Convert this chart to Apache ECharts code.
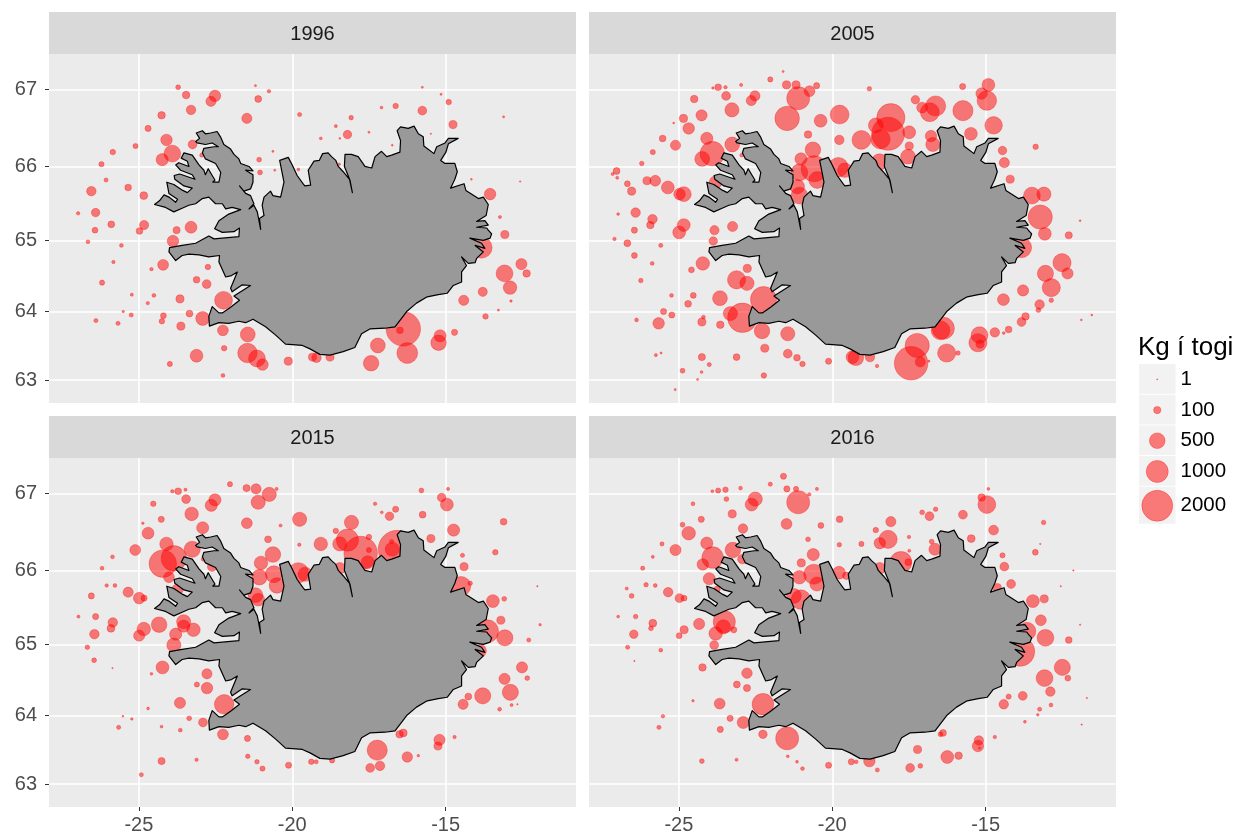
<!DOCTYPE html>
<html>
<head>
<meta charset="utf-8">
<title>Kg í togi</title>
<script src="https://cdn.jsdelivr.net/npm/echarts@6/dist/echarts.min.js"></script>
<style>
  html, body { margin: 0; background: #fff; }
  #chart { width: 1239px; height: 839px; }
</style>
</head>
<body>
<div id="chart"></div>
<script>
const years = ['1996', '2005', '2015', '2016'];
const xTicks = [-25, -20, -15];
const yTicks = [63, 64, 65, 66, 67];
const legendKg = [1, 100, 500, 1000, 2000];

// coastline, lon / lat
const coast = [
  [-24.49,65.49],[-24.33,65.54],[-24.18,65.62],[-24.02,65.59],[-23.80,65.52],[-23.74,65.56],[-24.02,65.64],[-24.09,65.79],[-23.86,65.76],[-23.57,65.68],
  [-23.42,65.65],[-23.26,65.71],[-23.53,65.74],[-23.83,65.83],[-23.85,65.88],[-23.67,65.90],[-23.17,65.83],[-23.26,65.89],[-23.64,65.95],[-23.80,66.02],
  [-23.70,66.05],[-23.37,66.00],[-23.42,66.07],[-23.62,66.11],[-23.53,66.18],[-23.26,66.15],[-23.04,66.02],[-22.88,65.95],[-22.83,65.89],[-22.74,65.97],
  [-22.61,65.88],[-22.52,65.82],[-22.59,65.79],[-22.39,65.79],[-22.33,65.92],[-22.50,66.04],[-22.83,66.10],[-22.93,66.18],[-22.88,66.24],[-22.55,66.26],
  [-22.41,66.26],[-22.61,66.31],[-22.83,66.29],[-23.10,66.31],[-23.15,66.33],[-23.02,66.37],[-23.13,66.44],[-22.93,66.47],[-22.83,66.43],[-22.66,66.44],
  [-22.45,66.46],[-22.34,66.39],[-22.23,66.29],[-22.01,66.23],[-21.90,66.16],[-21.74,66.10],[-21.68,66.04],[-21.41,66.00],[-21.28,65.94],[-21.52,65.95],
  [-21.28,65.89],[-21.28,65.79],[-21.36,65.70],[-21.58,65.67],[-21.72,65.74],[-21.52,65.64],[-21.36,65.61],[-21.25,65.50],[-21.41,65.43],[-21.25,65.48],
  [-21.14,65.39],[-21.03,65.15],[-21.07,65.30],[-20.92,65.34],[-20.98,65.48],[-20.92,65.59],[-20.71,65.67],[-20.63,65.61],[-20.38,65.59],[-20.27,65.79],
  [-20.41,66.08],[-20.13,66.12],[-20.00,66.02],[-19.84,65.88],[-19.65,65.77],[-19.59,65.74],[-19.40,65.75],[-19.48,65.95],[-19.29,66.07],[-19.12,66.08],
  [-19.01,66.17],[-18.83,66.18],[-18.72,66.13],[-18.58,66.08],[-18.50,66.00],[-18.34,65.93],[-18.12,65.82],[-18.04,65.65],[-18.14,65.84],[-18.30,66.00],
  [-18.28,66.16],[-18.07,66.16],[-17.85,66.13],[-17.63,66.00],[-17.41,65.98],[-17.30,66.13],[-17.09,66.20],[-16.92,66.13],[-16.76,66.15],[-16.49,66.19],
  [-16.47,66.34],[-16.58,66.47],[-16.47,66.52],[-16.22,66.50],[-16.03,66.53],[-15.89,66.43],[-15.73,66.39],[-15.71,66.27],[-15.38,66.17],[-15.29,66.26],
  [-15.02,66.31],[-14.91,66.37],[-14.59,66.37],[-14.91,66.30],[-14.99,66.19],[-15.16,66.08],[-15.02,66.04],[-14.70,66.04],[-14.62,65.93],[-14.70,65.83],
  [-14.84,65.71],[-14.40,65.77],[-14.34,65.68],[-13.93,65.57],[-13.77,65.59],[-13.61,65.49],[-13.68,65.34],[-13.99,65.26],[-13.72,65.27],[-13.61,65.21],
  [-13.99,65.18],[-13.66,65.17],[-13.61,65.14],[-13.50,65.09],[-13.55,65.03],[-13.77,65.00],[-14.21,65.03],[-13.83,64.96],[-13.72,64.89],[-14.04,64.93],
  [-13.77,64.84],[-13.99,64.75],[-14.04,64.69],[-14.26,64.68],[-14.48,64.77],[-14.32,64.65],[-14.48,64.56],[-14.48,64.42],[-14.75,64.37],[-14.95,64.26],
  [-15.24,64.24],[-15.60,64.21],[-15.95,64.12],[-16.27,64.00],[-16.65,63.78],[-16.98,63.76],[-17.47,63.75],[-17.74,63.68],[-17.96,63.48],[-18.34,63.42],
  [-18.77,63.37],[-19.10,63.38],[-19.42,63.46],[-19.67,63.51],[-20.22,63.53],[-20.54,63.66],[-20.87,63.78],[-21.28,63.89],[-21.52,63.84],[-21.74,63.86],
  [-22.07,63.83],[-22.39,63.84],[-22.70,63.79],[-22.72,63.93],[-22.61,64.07],[-22.39,63.98],[-22.28,63.98],[-22.01,64.06],[-21.72,64.16],[-21.90,64.22],
  [-21.36,64.37],[-21.63,64.38],[-21.96,64.28],[-22.01,64.33],[-21.79,64.56],[-21.98,64.51],[-22.17,64.49],[-22.39,64.70],[-22.37,64.79],[-22.72,64.77],
  [-23.04,64.80],[-23.37,64.81],[-23.59,64.79],[-23.80,64.72],[-24.02,64.84],[-24.00,64.90],[-23.59,64.93],[-23.15,64.96],[-22.72,65.06],[-22.55,65.02],
  [-21.74,65.05],[-21.72,65.17],[-21.90,65.12],[-22.28,65.11],[-22.53,65.16],[-22.39,65.27],[-22.07,65.36],[-21.68,65.42],[-21.96,65.45],[-22.17,65.43],
  [-22.28,65.50],[-22.50,65.50],[-22.72,65.59],[-22.93,65.57],[-23.15,65.50],[-23.37,65.48],[-23.59,65.44],[-23.86,65.39],[-24.13,65.45]
];

// tows: lon, lat, kg
const tows1996 = [
  [-23.72,67.03,41],[-23.46,66.93,106],[-22.52,66.92,262],[-22.65,66.85,202],[-23.30,66.74,175],[-24.26,66.67,106],[-21.20,67.05,6],[-20.76,66.98,19],[-21.11,66.88,87],[-21.48,66.63,202],
  [-19.76,66.68,29],[-24.70,66.50,69],[-24.10,66.35,262],[-23.25,66.29,150],[-25.11,66.27,47],[-25.85,66.19,54],[-23.91,66.17,577],[-24.24,66.09,294],[-26.22,66.03,47],[-22.95,66.15,29],
  [-20.63,66.20,6],[-21.08,66.09,41],[-21.05,65.92,41],[-20.57,65.95,6],[-19.80,65.96,12],[-26.07,65.82,29],[-26.55,65.67,175],[-25.35,65.72,78],[-24.84,65.61,116],[-26.98,65.37,19],
  [-26.41,65.38,138],[-25.90,65.22,87],[-24.83,65.21,163],[-24.98,65.13,78],[-26.43,65.14,62],[-23.30,65.18,278],[-23.77,65.14,96],[-23.89,64.99,262],[-26.66,64.98,24],[-25.57,64.93,24],
  [-25.83,64.70,19],[-24.21,64.66,231],[-24.59,64.60,19],[-22.75,64.63,54],[-26.20,64.41,47],[-23.12,64.45,78],[-22.79,64.39,150],[-25.23,64.24,15],[-24.51,64.23,24],[-23.66,64.18,127],
  [-22.24,64.16,650],[-24.71,64.12,19],[-25.51,64.00,9],[-25.25,63.95,29],[-24.20,63.94,62],[-26.40,63.87,29],[-25.68,63.83,29],[-24.25,63.86,54],[-23.35,63.97,87],[-22.92,63.90,385],
  [-23.63,63.79,127],[-22.26,63.73,231],[-21.45,63.67,444],[-22.22,63.47,54],[-23.12,63.36,329],[-23.99,63.24,47],[-21.46,63.40,781],[-21.15,63.32,577],[-20.97,63.23,262],[-20.13,63.28,127],
  [-22.26,63.07,24],[-15.76,67.03,6],[-15.15,66.94,6],[-14.90,66.84,54],[-17.09,66.77,12],[-16.63,66.79,54],[-15.76,66.73,150],[-18.08,66.64,35],[-18.58,66.53,15],[-13.11,66.65,6],
  [-14.76,66.55,127],[-17.50,66.45,6],[-18.20,66.42,138],[-19.07,66.37,12],[-18.45,66.37,4],[-15.48,66.43,2],[-16.74,66.28,4],[-18.47,66.03,9],[-14.16,65.83,4],[-12.57,65.80,2],
  [-13.55,65.63,262],[-13.23,65.32,15],[-13.07,65.08,127],[-13.83,64.90,924],[-12.53,64.67,246],[-12.36,64.54,106],[-13.08,64.54,577],[-12.90,64.34,366],[-13.79,64.28,163],[-14.41,64.16,202],
  [-12.87,64.15,9],[-13.28,64.02,6],[-13.70,63.93,54],[-14.71,63.70,69],[-16.49,63.73,87],[-16.38,63.75,2500],[-15.18,63.65,294],[-15.23,63.55,487],[-17.21,63.51,444],[-16.25,63.40,894],
  [-17.43,63.25,487],[-18.77,63.34,127],[-19.21,63.33,175],[-19.34,63.34,127]
];

const tows2005 = [
  [-21.60,67.23,6],[-22.02,67.13,47],[-21.49,67.06,127],[-21.18,67.06,127],[-20.51,67.05,69],[-20.74,66.98,231],[-21.11,66.89,1079],[-21.47,66.63,1246],[-19.76,66.68,727],[-20.38,66.60,329],
  [-23.72,67.03,78],[-23.89,67.02,9],[-23.48,67.03,19],[-22.97,67.06,15],[-23.46,66.92,150],[-22.52,66.92,202],[-22.64,66.86,202],[-24.50,66.88,106],[-23.27,66.74,404],[-24.26,66.67,246],
  [-24.85,66.63,127],[-25.17,66.57,4],[-24.68,66.50,262],[-20.79,66.42,106],[-19.77,66.35,175],[-24.09,66.37,294],[-25.53,66.37,78],[-25.11,66.28,202],[-25.85,66.19,47],[-23.26,66.29,444],
  [-20.63,66.22,487],[-23.91,66.17,1246],[-24.24,66.10,444],[-21.02,66.10,294],[-26.21,66.04,35],[-22.95,66.15,24],[-27.03,65.94,87],[-27.16,65.90,15],[-27.01,65.85,15],[-26.68,65.77,62],
  [-26.54,65.67,127],[-26.04,65.81,127],[-25.77,65.81,231],[-25.36,65.72,329],[-24.84,65.63,444],[-24.98,65.63,262],[-21.07,65.92,577],[-20.59,65.97,1425],[-19.80,65.99,781],[-19.59,65.95,424],
  [-20.49,65.82,577],[-21.14,65.73,424],[-21.07,65.61,577],[-23.80,65.79,329],[-26.98,65.36,12],[-26.41,65.38,175],[-25.86,65.29,175],[-25.93,65.21,106],[-24.84,65.21,329],[-24.99,65.11,329],
  [-26.45,65.14,69],[-23.25,65.19,202],[-23.84,65.14,163],[-23.88,64.99,138],[-27.10,65.02,19],[-26.68,64.96,87],[-25.59,64.93,29],[-26.45,64.79,62],[-25.87,64.68,24],[-24.22,64.68,366],
  [-24.59,64.59,62],[-22.77,64.61,127],[-23.12,64.45,675],[-22.78,64.40,404],[-26.24,64.44,35],[-25.24,64.23,24],[-24.53,64.23,62],[-24.70,64.11,87],[-23.66,64.19,444],[-22.24,64.17,1425],
  [-25.50,64.00,69],[-25.23,63.95,69],[-24.20,63.92,24],[-24.25,63.85,127],[-26.38,63.88,24],[-25.66,63.83,262],[-23.32,63.97,404],[-22.93,63.91,1819],[-23.65,63.81,106],[-22.29,63.72,487],
  [-21.45,63.68,404],[-22.20,63.47,127],[-25.75,63.37,15],[-25.58,63.40,6],[-24.25,63.34,96],[-23.12,63.34,87],[-24.01,63.23,29],[-21.45,63.39,150],[-21.15,63.33,78],[-20.97,63.24,54],
  [-20.12,63.28,69],[-24.88,63.14,41],[-24.26,63.12,12],[-22.23,63.07,54],[-24.39,63.01,6],[-25.12,62.86,6],
  [-18.79,67.01,35],[-15.75,67.04,69],[-14.91,67.06,329],[-15.13,66.95,262],[-14.96,66.86,781],[-17.29,66.87,138],[-17.07,66.77,231],[-16.63,66.79,837],[-16.82,66.71,727],[-15.74,66.73,837],
  [-18.09,66.64,1656],[-18.58,66.54,444],[-18.18,66.43,2262],[-18.43,66.36,781],[-19.05,66.35,727],[-17.49,66.45,329],[-16.78,66.40,262],[-16.72,66.29,404],[-15.48,66.43,329],[-14.74,66.54,625],
  [-17.49,66.27,127],[-17.53,66.13,444],[-18.46,66.06,531],[-14.45,66.21,138],[-14.39,66.05,202],[-13.37,66.26,54],[-14.20,65.83,127],[-13.49,65.61,577],[-13.10,65.63,404],[-13.22,65.32,1212],
  [-13.07,65.09,329],[-11.92,65.27,4],[-12.29,65.07,96],[-13.83,64.90,837],[-12.51,64.69,675],[-12.33,64.54,246],[-13.05,64.54,531],[-12.86,64.34,675],[-13.78,64.30,246],[-14.42,64.17,278],
  [-13.24,64.10,175],[-12.86,64.16,35],[-13.28,64.02,41],[-13.70,63.93,106],[-13.83,63.85,150],[-11.88,63.88,4],[-11.54,63.95,4],[-14.25,63.74,78],[-14.41,63.69,12],[-14.70,63.70,175],
  [-16.47,63.73,727],[-16.38,63.76,1016],[-15.20,63.66,577],[-15.25,63.55,675],[-15.18,63.53,127],[-17.23,63.51,1212],[-16.27,63.40,675],[-15.90,63.40,35],[-17.43,63.25,2356],[-17.13,63.27,202],
  [-16.85,63.28,6],[-18.54,63.21,19],[-18.77,63.34,175],[-19.23,63.33,487],[-19.34,63.34,329]
];

const tows2015 = [
  [-22.03,67.12,47],[-21.49,67.07,96],[-21.18,67.06,202],[-20.51,67.06,15],[-20.75,66.99,404],[-21.11,66.89,404],[-21.48,66.62,231],[-20.38,66.59,15],[-19.76,66.67,404],[-23.72,67.03,78],
  [-23.91,67.03,19],[-23.48,67.05,15],[-23.46,66.93,150],[-22.52,66.92,294],[-22.64,66.85,294],[-24.53,66.87,54],[-23.28,66.74,366],[-24.27,66.67,69],[-24.87,66.62,9],[-24.70,66.49,278],
  [-22.92,66.56,294],[-20.79,66.41,87],[-19.77,66.34,19],[-24.10,66.35,366],[-23.26,66.28,531],[-20.63,66.21,487],[-25.12,66.27,231],[-25.86,66.18,24],[-23.86,66.16,1352],[-24.22,66.09,1577],
  [-21.02,66.10,366],[-26.20,66.03,24],[-24.02,65.91,231],[-22.61,66.05,175],[-22.90,66.15,29],[-26.05,65.80,19],[-25.78,65.80,24],[-26.55,65.66,69],[-25.35,65.71,202],[-24.99,65.63,262],
  [-24.83,65.63,69],[-21.07,65.91,487],[-20.60,65.95,577],[-19.80,65.97,837],[-19.58,65.95,404],[-20.50,65.80,487],[-21.20,65.67,444],[-21.11,65.61,329],[-23.75,65.74,262],[-26.97,65.38,15],
  [-26.41,65.38,69],[-25.85,65.30,175],[-25.91,65.22,116],[-24.34,65.27,487],[-23.54,65.31,404],[-23.54,65.25,294],[-23.22,65.20,366],[-23.80,65.14,294],[-24.84,65.21,366],[-24.99,65.12,246],
  [-26.45,65.14,175],[-23.86,64.99,404],[-26.68,64.96,35],[-26.46,64.78,41],[-25.86,64.67,2],[-24.23,64.68,329],[-24.59,64.59,12],[-22.78,64.59,202],[-23.11,64.44,47],[-22.78,64.39,262],
  [-23.66,64.18,246],[-22.22,64.16,781],[-24.70,64.10,12],[-25.52,63.99,4],[-25.23,63.95,9],[-25.66,63.83,29],[-24.26,63.84,12],[-23.36,63.96,41],[-22.91,63.90,150],[-23.65,63.79,24],
  [-22.26,63.73,231],[-21.46,63.67,69],[-21.45,63.41,35],[-21.15,63.33,35],[-20.97,63.23,47],[-20.12,63.28,69],[-24.26,63.34,96],[-23.12,63.36,19],[-24.92,63.14,29],
  [-15.79,67.04,41],[-14.92,67.06,15],[-15.13,66.95,138],[-14.96,66.86,329],[-17.30,66.87,19],[-17.08,66.76,12],[-16.63,66.80,69],[-16.83,66.71,138],[-15.75,66.73,87],[-18.07,66.63,404],
  [-18.58,66.52,54],[-18.20,66.40,1016],[-18.45,66.35,404],[-19.07,66.35,366],[-17.50,66.44,54],[-17.77,66.23,2356],[-17.54,66.11,329],[-17.50,66.27,47],[-16.76,66.38,29],[-16.74,66.28,404],
  [-16.58,66.28,3015],[-15.48,66.42,127],[-14.74,66.53,294],[-13.11,66.64,78],[-13.38,66.24,54],[-14.45,66.20,29],[-14.40,66.05,127],[-18.45,66.03,262],[-14.50,65.79,781],[-14.20,65.83,35],
  [-12.01,65.79,2],[-13.46,65.59,329],[-13.09,65.62,41],[-13.20,65.33,127],[-13.65,65.18,1079],[-13.07,65.09,531],[-11.92,65.27,9],[-12.29,65.06,29],[-13.88,64.91,329],[-12.51,64.68,246],
  [-12.34,64.53,41],[-13.08,64.52,246],[-12.89,64.33,531],[-13.79,64.28,531],[-14.26,64.27,87],[-14.43,64.16,202],[-12.85,64.15,15],[-12.66,64.16,2],[-13.24,64.09,24],[-14.71,63.69,19],
  [-16.38,63.75,116],[-16.50,63.73,106],[-15.20,63.65,246],[-15.25,63.56,127],[-17.23,63.50,837],[-16.25,63.40,216],[-15.89,63.42,9],[-17.46,63.24,150],[-17.14,63.27,175],[-18.70,63.35,47],
  [-19.22,63.33,29],[-19.38,63.33,54]
];

const tows2016 = [
  [-21.59,67.22,69],[-22.02,67.12,29],[-21.48,67.06,69],[-21.18,67.06,47],[-20.50,67.06,15],[-20.75,66.99,19],[-21.11,66.89,1079],[-21.49,66.61,231],[-20.37,66.59,62],[-19.76,66.67,78],
  [-22.99,67.07,24],[-23.91,67.03,12],[-23.72,67.04,47],[-23.48,67.05,54],[-23.45,66.93,41],[-22.51,66.93,404],[-22.63,66.86,329],[-24.54,66.87,24],[-23.26,66.74,127],[-24.27,66.67,69],
  [-24.88,66.60,41],[-24.68,66.49,366],[-22.91,66.55,175],[-20.79,66.41,41],[-19.77,66.34,35],[-25.55,66.35,29],[-25.11,66.27,246],[-24.09,66.36,294],[-25.85,66.18,15],[-23.24,66.27,487],
  [-20.62,66.21,294],[-23.90,66.17,954],[-24.22,66.08,262],[-21.01,66.10,127],[-26.18,66.03,29],[-22.93,66.15,175],[-24.01,65.89,294],[-26.70,65.76,15],[-26.07,65.81,35],[-25.77,65.80,24],
  [-21.07,65.91,366],[-20.60,65.95,837],[-19.78,65.97,329],[-19.54,65.93,106],[-20.50,65.82,404],[-26.54,65.66,41],[-25.35,65.71,175],[-24.98,65.63,150],[-24.83,65.63,62],[-21.25,65.66,444],
  [-21.02,65.61,781],[-23.75,65.75,69],[-26.98,65.38,12],[-26.41,65.38,35],[-25.85,65.29,116],[-25.91,65.22,41],[-24.34,65.28,246],[-23.52,65.31,1016],[-23.55,65.24,404],[-23.21,65.20,69],
  [-23.80,65.15,366],[-24.83,65.20,127],[-24.99,65.12,62],[-26.47,65.14,138],[-23.85,64.99,150],[-26.67,64.96,29],[-25.59,64.92,24],[-26.45,64.77,2],[-24.23,64.68,106],[-22.78,64.60,216],
  [-23.11,64.44,87],[-22.78,64.39,96],[-24.54,64.21,9],[-23.67,64.17,231],[-22.26,64.16,954],[-25.52,63.99,19],[-23.33,63.96,69],[-22.90,63.90,294],[-25.65,63.83,29],[-23.65,63.80,69],
  [-22.26,63.73,138],[-21.47,63.67,1079],[-21.45,63.41,12],[-21.15,63.33,12],[-20.97,63.23,24],[-20.12,63.28,69],[-24.25,63.34,41],[-23.12,63.36,15],
  [-14.91,67.06,12],[-15.13,66.95,106],[-14.96,66.86,650],[-17.07,66.76,41],[-16.63,66.80,35],[-16.83,66.71,150],[-15.74,66.73,150],[-18.09,66.64,202],[-18.58,66.53,54],[-18.18,66.41,675],
  [-18.45,66.36,262],[-19.05,66.35,47],[-17.50,66.44,19],[-16.76,66.38,41],[-16.65,66.28,294],[-17.76,66.11,954],[-17.52,66.11,87],[-17.49,66.26,15],[-15.47,66.42,116],[-14.74,66.53,188],
  [-13.11,66.63,35],[-13.22,66.35,2],[-13.38,66.24,62],[-14.45,66.20,47],[-14.39,66.05,150],[-12.14,66.00,2],[-18.45,66.03,262],[-12.55,65.79,2],[-14.17,65.82,150],[-14.62,65.77,127],
  [-13.46,65.59,329],[-13.09,65.62,127],[-13.20,65.33,231],[-13.66,65.18,675],[-13.05,65.09,577],[-11.92,65.27,2],[-12.29,65.06,78],[-13.88,64.90,1819],[-12.50,64.68,531],[-12.32,64.53,62],
  [-13.08,64.53,577],[-12.89,64.34,175],[-13.79,64.28,150],[-14.25,64.27,47],[-14.41,64.16,175],[-11.70,64.25,2],[-12.87,64.15,24],[-13.24,64.09,29],[-13.30,64.01,9],[-13.72,63.91,12],
  [-11.87,63.87,2],[-14.70,63.69,19],[-16.39,63.75,87],[-16.47,63.73,41],[-15.22,63.64,175],[-15.25,63.56,262],[-15.20,63.53,6],[-17.22,63.51,127],[-16.25,63.40,329],[-15.88,63.42,106],
  [-17.46,63.24,150],[-17.13,63.27,41],[-18.53,63.21,29],[-18.79,63.34,262],[-19.22,63.33,24],[-19.38,63.33,69]
];

const towsByPanel = [tows1996, tows2005, tows2015, tows2016];

// the map is in Mercator, so latitude goes through this before it reaches the y axis
function merc(lat) {
  return Math.log(Math.tan(Math.PI / 4 + (lat * Math.PI) / 360));
}
function unmerc(y) {
  return ((2 * Math.atan(Math.exp(y)) - Math.PI / 2) * 180) / Math.PI;
}
function kgSize(kg) {
  return 0.5 + 0.68 * Math.sqrt(kg);
}

const axisText = { color: '#4D4D4D', fontSize: 20, fontFamily: 'Liberation Sans' };
const panels = [
  { left: 49, top: 54 },
  { left: 589, top: 54 },
  { left: 49, top: 458 },
  { left: 589, top: 458 },
];
const panelW = 527;
const panelH = 349;
const stripH = 42;

const grid = [];
const xAxis = [];
const yAxis = [];
const series = [];
const graphic = [];

panels.forEach((p, i) => {
  const bottomRow = i >= 2;
  const leftCol = i % 2 === 0;
  grid.push({
    left: p.left,
    top: p.top,
    width: panelW,
    height: panelH,
    show: true,
    backgroundColor: '#EBEBEB',
    borderWidth: 0,
  });
  xAxis.push({
    gridIndex: i,
    type: 'value',
    min: -27.93,
    max: -10.75,
    axisLine: { show: false },
    axisTick: {
      show: bottomRow,
      length: 4,
      customValues: xTicks,
      lineStyle: { color: '#333333' },
    },
    axisLabel: { show: bottomRow, margin: 8, customValues: xTicks, ...axisText },
    splitLine: { show: true, lineStyle: { color: '#fff', width: 1.6 } },
    minorSplitLine: { show: false },
  });
  yAxis.push({
    gridIndex: i,
    type: 'value',
    min: merc(62.66),
    max: merc(67.45),
    axisLine: { show: false },
    axisTick: {
      show: leftCol,
      length: 4,
      customValues: yTicks.map(merc),
      lineStyle: { color: '#333333' },
    },
    axisLabel: {
      show: leftCol,
      margin: 12,
      customValues: yTicks.map(merc),
      formatter: (v) => String(Math.round(unmerc(v))),
      ...axisText,
    },
    splitLine: { show: true, lineStyle: { color: '#fff', width: 1.6 } },
  });
  series.push({
    type: 'scatter',
    xAxisIndex: i,
    yAxisIndex: i,
    z: 2,
    silent: true,
    symbolSize: (v) => kgSize(v[2]),
    itemStyle: {
      color: 'rgba(255, 0, 0, 0.5)',
      borderColor: 'rgba(255, 0, 0, 0.3)',
      borderWidth: 1,
      opacity: 1,
    },
    data: towsByPanel[i].map((t) => [t[0], merc(t[1]), t[2]]),
  });
  // land goes over the tows, the reference hides them under it
  series.push({
    type: 'custom',
    xAxisIndex: i,
    yAxisIndex: i,
    z: 3,
    silent: true,
    clip: true,
    data: [[coast[0][0], merc(coast[0][1])]],
    encode: { x: 0, y: 1 },
    renderItem: (params, api) => ({
      type: 'polygon',
      shape: { points: coast.map((c) => api.coord([c[0], merc(c[1])])) },
      style: { fill: '#999999', stroke: '#000', lineWidth: 1.2, lineJoin: 'round' },
    }),
  });
  graphic.push({
    type: 'rect',
    shape: { x: p.left, y: p.top - stripH, width: panelW, height: stripH },
    style: { fill: '#D9D9D9' },
  });
  graphic.push({
    type: 'text',
    x: p.left + panelW / 2,
    y: p.top - stripH / 2 + 1,
    style: {
      text: years[i],
      fill: '#1A1A1A',
      font: '20px "Liberation Sans"',
      align: 'center',
      verticalAlign: 'middle',
    },
  });
});

// size legend, an own small grid so keys come from the same size scale
const keyRows = [];
let keyTop = 0;
legendKg.forEach((kg) => {
  const h = Math.max(30.7, kgSize(kg) + 7);
  keyRows.push({ kg, top: keyTop, bottom: keyTop + h });
  keyTop += h;
});
const keyCentres = keyRows.map((r) => (r.top + r.bottom) / 2);

grid.push({ left: 1139, top: 364, width: 36.5, height: keyTop, show: false });
xAxis.push({ gridIndex: 4, type: 'value', min: 0, max: 1, show: false });
yAxis.push({
  gridIndex: 4,
  type: 'value',
  inverse: true,
  min: 0,
  max: keyTop,
  position: 'right',
  axisLine: { show: false },
  axisTick: { show: false, customValues: keyCentres },
  splitLine: { show: false },
  axisLabel: {
    margin: 5,
    customValues: keyCentres,
    color: '#000',
    fontSize: 20.5,
    fontFamily: 'Liberation Sans',
    formatter: (v) => {
      const k = keyCentres.findIndex((c) => Math.abs(c - v) < 0.01);
      return String(legendKg[k]);
    },
  },
});
series.push({
  type: 'custom',
  xAxisIndex: 4,
  yAxisIndex: 4,
  z: 1,
  silent: true,
  data: keyRows.map((r) => [0, r.top, 1, r.bottom]),
  encode: { x: [0, 2], y: [1, 3] },
  renderItem: (params, api) => {
    const a = api.coord([api.value(0), api.value(1)]);
    const b = api.coord([api.value(2), api.value(3)]);
    return {
      type: 'rect',
      shape: { x: a[0], y: a[1], width: b[0] - a[0], height: b[1] - a[1] - 1 },
      style: { fill: '#F2F2F2' },
    };
  },
});
series.push({
  type: 'scatter',
  xAxisIndex: 4,
  yAxisIndex: 4,
  z: 2,
  silent: true,
  symbolSize: (v) => kgSize(v[2]),
  itemStyle: {
    color: 'rgba(255, 0, 0, 0.5)',
    borderColor: 'rgba(255, 0, 0, 0.3)',
    borderWidth: 1,
    opacity: 1,
  },
  data: keyRows.map((r, k) => [0.5, keyCentres[k], r.kg]),
});
graphic.push({
  type: 'text',
  x: 1138,
  y: 348,
  style: {
    text: 'Kg í togi',
    fill: '#000',
    font: '26px "Liberation Sans"',
    align: 'left',
    verticalAlign: 'middle',
  },
});

const chart = echarts.init(document.getElementById('chart'), null, { renderer: 'canvas' });
chart.setOption({
  animation: false,
  backgroundColor: '#fff',
  grid,
  xAxis,
  yAxis,
  series,
  graphic,
});
</script>
</body>
</html>
